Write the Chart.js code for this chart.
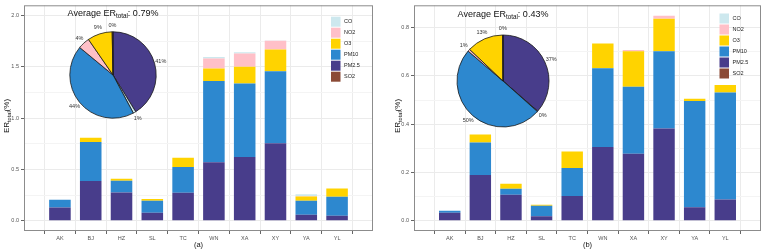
<!DOCTYPE html>
<html lang="en">
<head>
<meta charset="UTF-8">
<title>ER total by city</title>
<script src="https://cdn.jsdelivr.net/npm/chart.js@4.4.1/dist/chart.umd.min.js"></script>
<style>
  html, body { margin: 0; padding: 0; background: #fff; }
  body { width: 764px; height: 250px; position: relative; overflow: hidden; }
  canvas { position: absolute; }
</style>
</head>
<body>
<canvas id="barA" width="382" height="250" style="left:0;top:0"></canvas>
<canvas id="barB" width="382" height="250" style="left:382px;top:0"></canvas>
<canvas id="pieA" width="150" height="130"></canvas>
<canvas id="pieB" width="150" height="130"></canvas>

<script>
// ---- data ----
const cities = ['AK', 'BJ', 'HZ', 'SL', 'TC', 'WN', 'XA', 'XY', 'YA', 'YL'];

// panel (a): ER_total (%) per pollutant
const so2A  = [0, 0, 0, 0, 0, 0, 0, 0, 0, 0];
const pm25A = [0.13, 0.387, 0.275, 0.077, 0.272, 0.57, 0.621, 0.756, 0.058, 0.048];
const pm10A = [0.075, 0.381, 0.115, 0.118, 0.253, 0.791, 0.717, 0.701, 0.137, 0.186];
const o3A   = [0, 0.042, 0.02, 0.016, 0.09, 0.122, 0.164, 0.211, 0.041, 0.08];
const no2A  = [0, 0, 0, 0, 0, 0.099, 0.128, 0.087, 0.005, 0];
const coA   = [0, 0, 0, 0, 0, 0.013, 0.013, 0.003, 0.018, 0];

// panel (b)
const so2B  = [0, 0, 0, 0, 0, 0, 0, 0, 0, 0];
const pm25B = [0.033, 0.19, 0.108, 0.019, 0.103, 0.306, 0.278, 0.382, 0.056, 0.088];
const pm10B = [0.008, 0.134, 0.025, 0.043, 0.116, 0.326, 0.277, 0.32, 0.44, 0.443];
const o3B   = [0, 0.033, 0.02, 0.004, 0.068, 0.102, 0.147, 0.135, 0.009, 0.031];
const no2B  = [0, 0, 0, 0, 0, 0, 0.005, 0.012, 0, 0];
const coB   = [0, 0, 0, 0, 0, 0, 0, 0, 0, 0];

// pie shares (%), clockwise from 12 o'clock
const pieOrder = ['PM2.5', 'CO', 'PM10', 'NO2', 'O3', 'SO2'];
const pieA = [41.2, 1.0, 43.8, 4.4, 9.3, 0.3];
const pieB = [36.6, 0.2, 50.0, 0.8, 12.9, 0.1];

const avgA = '0.79%';
const avgB = '0.43%';

// ---- styling ----
const FONT = '"Liberation Sans", Arial, sans-serif';
const colors = {
  'CO': '#cde8ee', 'NO2': '#ffc0c8', 'O3': '#ffd300',
  'PM10': '#2d88cf', 'PM2.5': '#483d8b', 'SO2': '#8b4a36'
};
const legendOrder = ['CO', 'NO2', 'O3', 'PM10', 'PM2.5', 'SO2'];
const stackOrder = ['SO2', 'PM2.5', 'PM10', 'O3', 'NO2', 'CO']; // bottom -> top

function barSets(series) {
  return stackOrder.map(k => ({
    label: k,
    data: series[k].map((v, i) => ({ x: i, y: v })),
    backgroundColor: colors[k],
    borderWidth: 0,
    categoryPercentage: 1,
    barPercentage: 0.7
  }));
}

// text with a subscript, centred on (x, y) baseline
function drawSub(ctx, parts, x, y) {
  let w = 0;
  parts.forEach(p => { ctx.font = p[1] + 'px ' + FONT; w += ctx.measureText(p[0]).width; });
  let cx = x - w / 2;
  ctx.textAlign = 'left';
  ctx.textBaseline = 'alphabetic';
  parts.forEach(p => {
    ctx.font = p[1] + 'px ' + FONT;
    ctx.fillText(p[0], cx, y + p[2]);
    cx += ctx.measureText(p[0]).width;
  });
}

function decoPlugin(o) {
  return {
    id: 'deco',
    afterDraw(chart) {
      const ctx = chart.ctx, a = chart.chartArea;
      ctx.save();
      // panel border
      ctx.strokeStyle = '#8c8c8c';
      ctx.lineWidth = 1;
      ctx.strokeRect(a.left + 0.5, a.top + 0.5, a.right - a.left - 1, a.bottom - a.top - 1);

      // legend
      legendOrder.forEach((k, i) => {
        const yc = o.legY + i * 11;
        ctx.fillStyle = colors[k];
        ctx.fillRect(o.legX, yc - 5, 9.5, 10);
        ctx.fillStyle = '#222';
        ctx.font = '5.5px ' + FONT;
        ctx.textAlign = 'left';
        ctx.textBaseline = 'middle';
        ctx.fillText(k, o.legX + 13, yc);
      });

      // title above the pie
      ctx.fillStyle = '#111';
      drawSub(ctx, [['Average ER', 9, 0], ['total', 6.3, 2.2], [': ' + o.avg, 9, 0]], o.titleX, o.titleY);

      // y axis title
      ctx.save();
      ctx.translate(o.yTitleX, 116);
      ctx.rotate(-Math.PI / 2);
      drawSub(ctx, [['ER', 8, 0], ['total', 5.6, 2], ['(%)', 8, 0]], 0, 3);
      ctx.restore();

      // panel tag
      ctx.font = '7.5px ' + FONT;
      ctx.textAlign = 'center';
      ctx.textBaseline = 'middle';
      ctx.fillText(o.tag, (a.left + a.right) / 2, 245);
      ctx.restore();
    }
  };
}

function isMajor(v, step) {
  return Math.abs(v / step - Math.round(v / step)) < 1e-6;
}

function makeBar(id, o) {
  return new Chart(document.getElementById(id), {
    type: 'bar',
    data: { datasets: barSets(o.series) },
    options: {
      responsive: false,
      animation: false,
      events: [],
      layout: { padding: { top: o.padTop, right: o.padRight, left: 0, bottom: 0 } },
      plugins: { legend: { display: false }, tooltip: { enabled: false } },
      scales: {
        x: {
          type: 'linear', stacked: true, min: -0.6, max: 9.6,
          afterBuildTicks: s => { s.ticks = cities.map((c, i) => ({ value: i })); },
          afterFit: s => { s.height = 19; },
          border: { display: false },
          grid: { color: '#ebebeb', lineWidth: 1, tickLength: 3, tickColor: '#666' },
          ticks: {
            callback: v => cities[v], color: '#555', padding: 1,
            autoSkip: false, maxRotation: 0, font: { size: 5.5, family: FONT }
          }
        },
        y: {
          stacked: true, min: o.yMin, max: o.yMax,
          afterBuildTicks: s => {
            const t = [];
            for (let i = 0; i * o.minor <= o.yMax; i++) t.push({ value: +(i * o.minor).toFixed(4) });
            s.ticks = t;
          },
          afterFit: s => { s.width = o.axisW; },
          border: { display: false },
          grid: {
            lineWidth: 1, tickLength: 3,
            color: c => isMajor(c.tick.value, o.major) ? '#ebebeb' : '#f4f4f4',
            tickColor: c => isMajor(c.tick.value, o.major) ? '#666' : 'rgba(0,0,0,0)'
          },
          ticks: {
            callback: v => isMajor(v, o.major) ? v.toFixed(1) : '',
            color: '#555', padding: 2, autoSkip: false, font: { size: 5.5, family: FONT }
          }
        }
      }
    },
    plugins: [decoPlugin(o)]
  });
}

const pieLabels = {
  id: 'pieLabels',
  afterDatasetsDraw(chart) {
    const ctx = chart.ctx;
    const vals = chart.data.datasets[0].data;
    ctx.save();
    ctx.font = '5.5px ' + FONT;
    ctx.fillStyle = '#333';
    ctx.textAlign = 'center';
    ctx.textBaseline = 'middle';
    chart.getDatasetMeta(0).data.forEach((arc, i) => {
      const p = arc.getProps(['x', 'y', 'startAngle', 'endAngle', 'outerRadius'], true);
      const m = (p.startAngle + p.endAngle) / 2;
      const r = p.outerRadius * 1.15;
      ctx.fillText(Math.round(vals[i]) + '%', p.x + Math.cos(m) * r, p.y + Math.sin(m) * r);
    });
    ctx.restore();
  }
};

function makePie(id, vals, cx, cy, radius) {
  const el = document.getElementById(id);
  el.style.left = Math.round(cx - el.width / 2) + 'px';
  el.style.top = Math.round(cy - el.height / 2) + 'px';
  return new Chart(el, {
    type: 'pie',
    data: {
      labels: pieOrder,
      datasets: [{
        data: vals,
        backgroundColor: pieOrder.map(k => colors[k]),
        borderColor: '#1a1a1a',
        borderWidth: 0.8,
        radius: radius
      }]
    },
    options: {
      responsive: false, animation: false, events: [],
      radius: radius,
      plugins: { legend: { display: false }, tooltip: { enabled: false } }
    },
    plugins: [pieLabels]
  });
}

makeBar('barA', {
  series: { 'SO2': so2A, 'PM2.5': pm25A, 'PM10': pm10A, 'O3': o3A, 'NO2': no2A, 'CO': coA },
  yMin: -0.1, yMax: 2.1, major: 0.5, minor: 0.25,
  axisW: 24, padTop: 1, padRight: 9,
  legX: 331, legY: 21.7,
  avg: avgA, titleX: 113, titleY: 15.5,
  yTitleX: 6, tag: '(a)'
});

makeBar('barB', {
  series: { 'SO2': so2B, 'PM2.5': pm25B, 'PM10': pm10B, 'O3': o3B, 'NO2': no2B, 'CO': coB },
  yMin: -0.0425, yMax: 0.8925, major: 0.2, minor: 0.1,
  axisW: 32, padTop: 3, padRight: 3,
  legX: 337.5, legY: 18.5,
  avg: avgB, titleX: 121, titleY: 17,
  yTitleX: 14.5, tag: '(b)'
});

makePie('pieA', pieA, 113.3, 74.7, 43.2);
makePie('pieB', pieB, 503.2, 80.5, 46);
</script>
</body>
</html>
